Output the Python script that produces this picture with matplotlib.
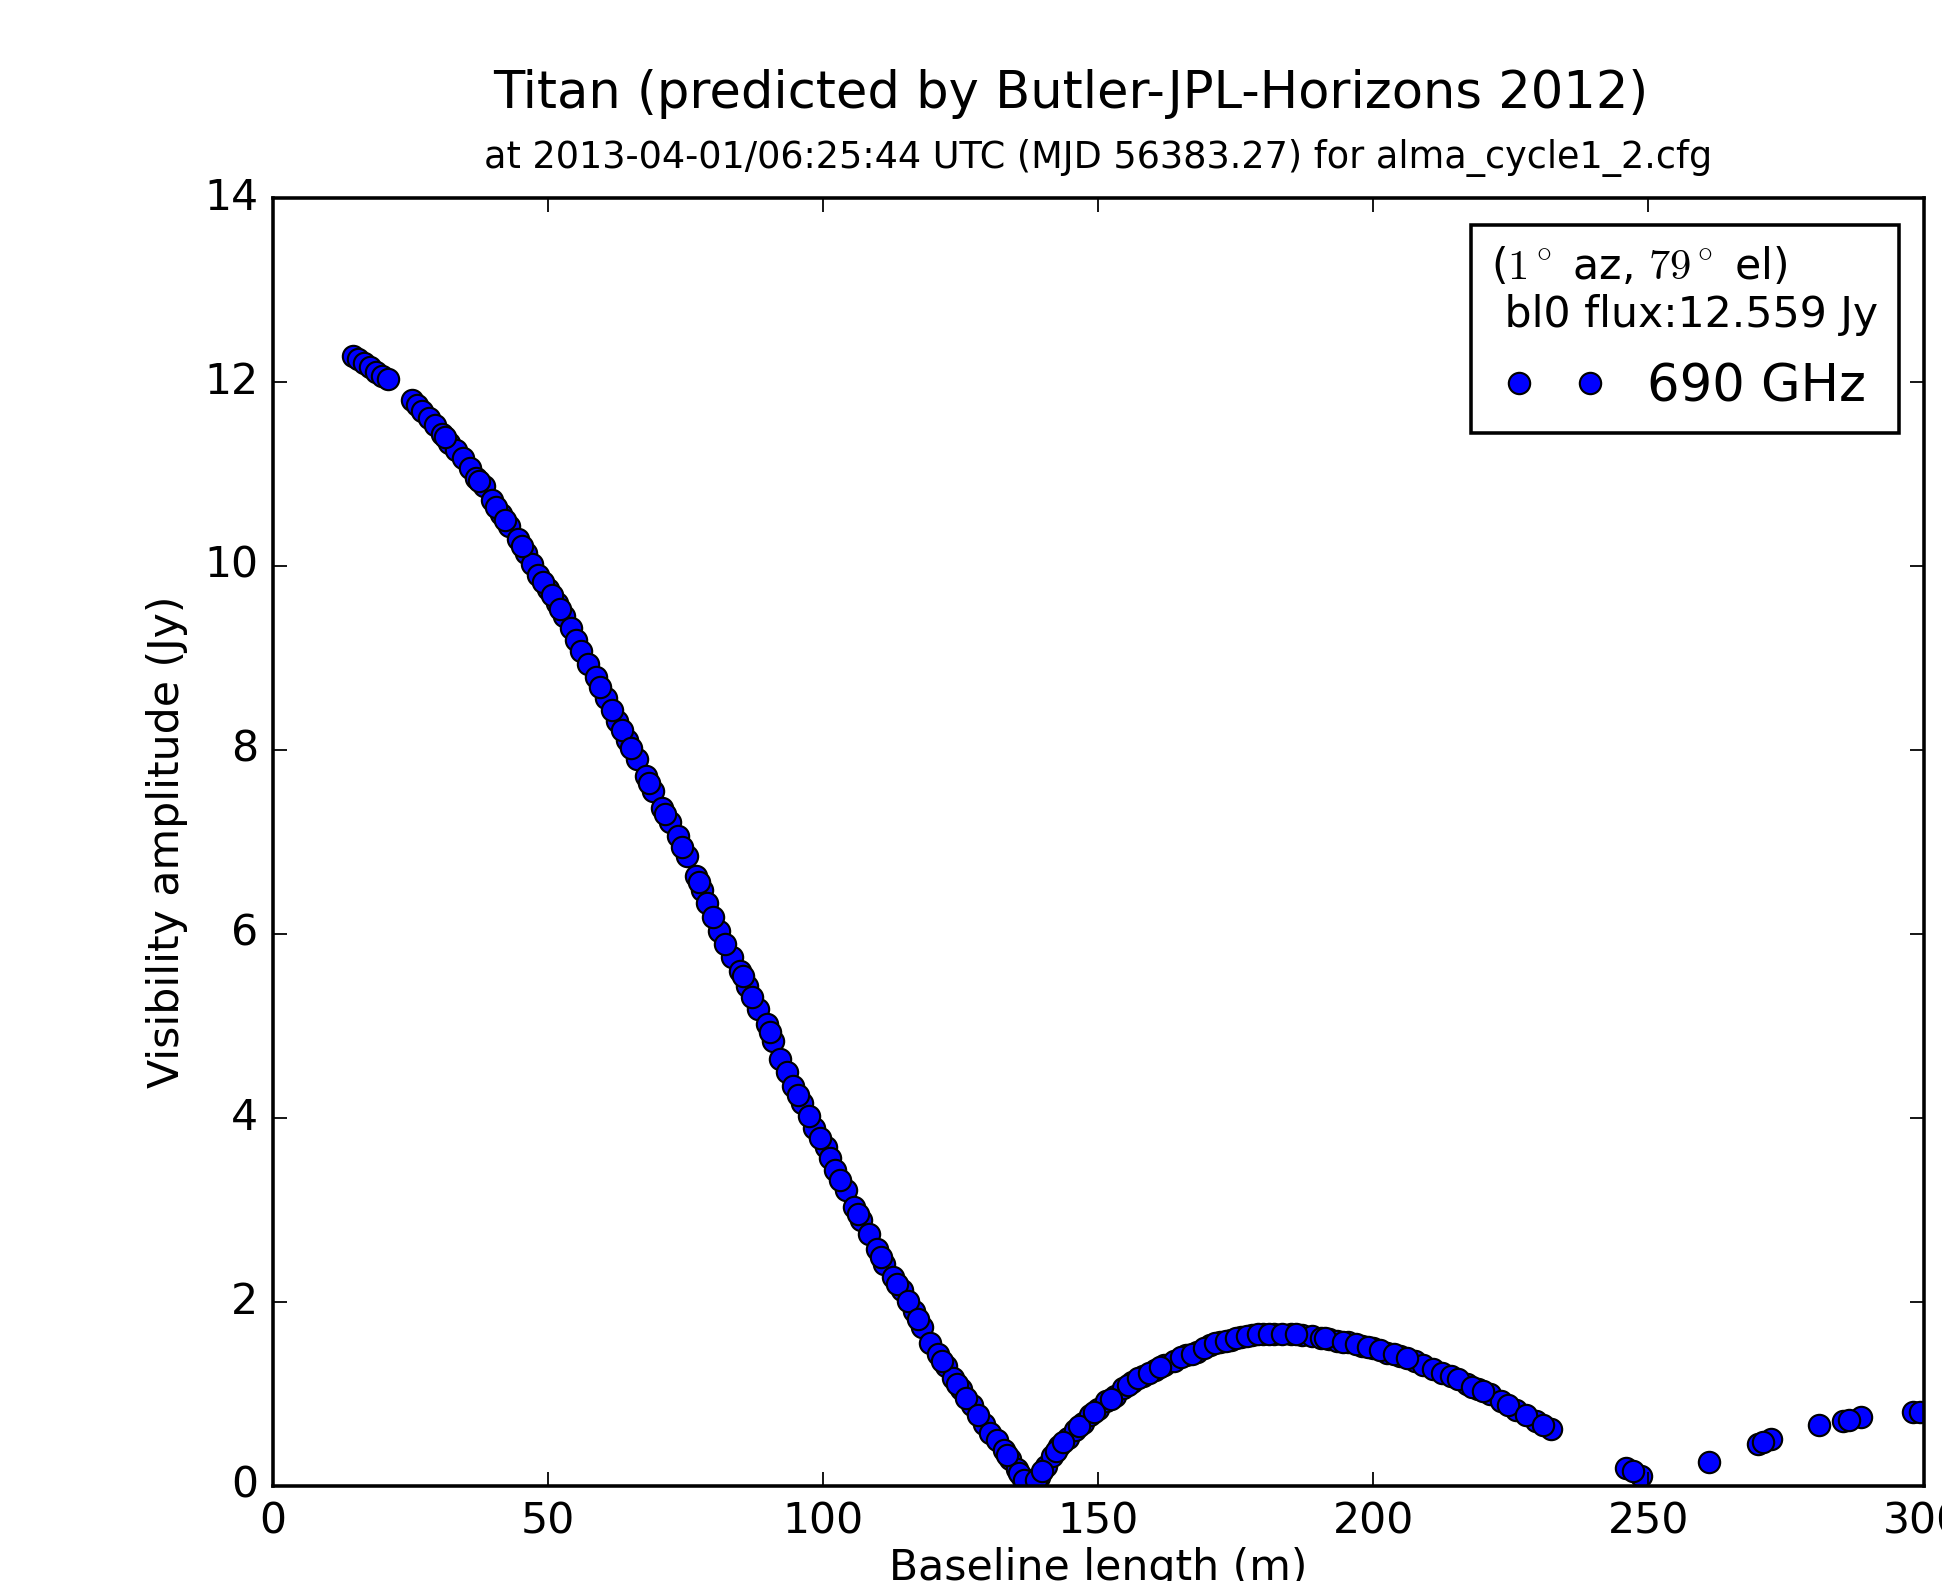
import matplotlib
matplotlib.use('Agg')
import matplotlib.pyplot as plt

plt.style.use('classic')

# baseline length (m) and visibility amplitude (Jy)
# (markers only, so the order of the points does not matter)
baseline = [14.6, 15.5, 16.7, 17.8, 18.8, 19.9, 20.9, 25.3, 26.3, 27.2,
            28.4, 29.5, 30.8, 32.1, 33.4, 34.6, 35.8, 36.9, 38.4, 39.9,
            41.5, 43.0, 44.6, 46.1, 47.2, 48.3, 50.0, 51.7, 53.0, 54.2,
            55.2, 56.1, 57.4, 58.7, 60.6, 62.6, 64.4, 66.2, 67.8, 69.2,
            70.7, 72.2, 73.7, 75.3, 76.9, 78.0, 79.0, 81.1, 83.5, 84.9,
            86.3, 88.2, 89.8, 91.0, 92.2, 93.4, 94.6, 96.3, 98.4, 100.5,
            101.3, 102.2, 104.2, 105.7, 107.0, 108.4, 109.8, 111.2, 112.8, 114.3,
            116.6, 118.0, 119.5, 120.9, 122.3, 123.7, 125.1, 127.1, 129.2, 130.4,
            131.6, 132.9, 134.1, 135.2, 136.1, 137.0, 137.5, 138.2, 139.3, 140.5,
            141.7, 143.0, 144.5, 145.9, 147.2, 148.5, 150.0, 151.5, 153.1, 154.6,
            156.2, 158.2, 160.4, 162.0, 163.9, 166.0, 168.0, 170.4, 172.2, 174.2,
            176.0, 178.0, 180.0, 182.0, 185.0, 187.0, 188.9, 190.5, 192.0, 193.5,
            195.5, 198.0, 200.0, 202.5, 204.9, 207.6, 209.0, 210.8, 212.5, 214.2,
            217.0, 219.0, 221.2, 223.3, 226.0, 229.5, 232.3, 245.9, 248.7, 261.1,
            269.9, 272.3, 281.1, 285.3, 288.7, 298.1, 299.3,
            31.4, 37.6, 40.6, 42.3, 45.3, 49.1, 50.8, 52.3, 59.6, 61.6,
            63.5, 65.2, 68.5, 71.4, 74.5, 77.5, 80.0, 82.2, 85.5, 87.2,
            90.4, 95.4, 97.4, 99.5, 103.2, 106.3, 110.5, 113.5, 115.4, 117.3,
            121.6, 124.4, 126.1, 128.2, 133.5, 135.7, 136.6, 138.8, 139.9, 142.3,
            143.7, 146.6, 149.2, 152.3, 155.4, 157.2, 159.3, 161.2, 165.0, 167.0,
            169.2, 171.3, 173.2, 175.1, 177.0, 179.0, 181.0, 183.5, 186.0, 191.2,
            194.5, 196.8, 199.0, 201.2, 203.7, 206.2, 215.5, 218.0, 220.0, 224.5,
            227.8, 230.9, 247.2, 270.8, 286.5]
amplitude = [12.28, 12.25, 12.21, 12.16, 12.11, 12.07, 12.03, 11.80, 11.75, 11.69,
             11.61, 11.53, 11.44, 11.34, 11.26, 11.17, 11.06, 10.96, 10.87, 10.72,
             10.56, 10.44, 10.29, 10.14, 10.02, 9.90, 9.75, 9.60, 9.46, 9.33,
             9.20, 9.08, 8.94, 8.79, 8.56, 8.32, 8.11, 7.90, 7.72, 7.55,
             7.37, 7.22, 7.06, 6.85, 6.63, 6.48, 6.34, 6.03, 5.75, 5.60,
             5.44, 5.19, 5.02, 4.84, 4.64, 4.50, 4.35, 4.16, 3.89, 3.68,
             3.56, 3.43, 3.22, 3.03, 2.89, 2.74, 2.58, 2.41, 2.27, 2.13,
             1.90, 1.73, 1.55, 1.43, 1.30, 1.17, 1.05, 0.88, 0.67, 0.58,
             0.50, 0.39, 0.29, 0.19, 0.10, 0.05, 0.04, 0.06, 0.10, 0.22,
             0.33, 0.43, 0.52, 0.61, 0.69, 0.77, 0.84, 0.92, 0.98, 1.06,
             1.13, 1.20, 1.26, 1.31, 1.36, 1.42, 1.46, 1.53, 1.56, 1.59,
             1.62, 1.64, 1.65, 1.65, 1.65, 1.64, 1.63, 1.61, 1.60, 1.58,
             1.56, 1.52, 1.50, 1.45, 1.41, 1.36, 1.31, 1.27, 1.23, 1.20,
             1.11, 1.05, 1.00, 0.92, 0.83, 0.71, 0.62, 0.20, 0.11, 0.26,
             0.46, 0.51, 0.66, 0.71, 0.75, 0.80, 0.80,
             11.40, 10.92, 10.64, 10.50, 10.22, 9.83, 9.68, 9.53, 8.68, 8.44,
             8.22, 8.02, 7.64, 7.30, 6.95, 6.56, 6.19, 5.89, 5.54, 5.32,
             4.93, 4.25, 4.02, 3.78, 3.33, 2.96, 2.49, 2.20, 2.01, 1.81,
             1.36, 1.11, 0.96, 0.77, 0.34, 0.14, 0.07, 0.07, 0.16, 0.38,
             0.48, 0.65, 0.80, 0.95, 1.10, 1.17, 1.23, 1.29, 1.40, 1.44,
             1.50, 1.55, 1.58, 1.61, 1.63, 1.65, 1.65, 1.65, 1.65, 1.61,
             1.57, 1.54, 1.51, 1.48, 1.43, 1.39, 1.16, 1.08, 1.03, 0.88,
             0.77, 0.66, 0.16, 0.48, 0.72]

title_main = 'Titan (predicted by Butler-JPL-Horizons 2012)'
title_sub = 'at 2013-04-01/06:25:44 UTC (MJD 56383.27) for alma_cycle1_2.cfg'
legend_title = '($1^\\circ$ az, $79^\\circ$ el)\n bl0 flux:12.559 Jy'
series_label = '690 GHz'

W, H, DPI = 1942, 1581, 256
fig = plt.figure(figsize=(W / DPI, H / DPI), dpi=DPI, facecolor='white')
ax = fig.add_axes([272.5 / W, 95 / H, 1651 / W, 1288 / H])

ax.plot(baseline, amplitude, 'o', color='b', mec='k', mew=0.6, ms=6,
        label=series_label)
ax.set_xlim(0, 300)
ax.set_ylim(0, 14)
ax.tick_params(labelsize=12)

ax.set_xlabel('Baseline length (m)', fontsize=12)
ax.set_ylabel('Visibility amplitude (Jy)', fontsize=12)
ax.xaxis.set_label_coords(0.5, -0.047)
ax.yaxis.set_label_coords(-0.051, 0.5)

fig.text(1071 / W, 1 - 108 / H, title_main, ha='center', va='baseline',
         fontsize=14.4)
fig.text(1098 / W, 1 - 168 / H, title_sub, ha='center', va='baseline',
         fontsize=10.3)

ax.legend(loc='upper right', bbox_to_anchor=(1898.6 / W, 1 - 225.4 / H),
          bbox_transform=fig.transFigure, borderaxespad=0, numpoints=2,
          fontsize=14.4, title=legend_title, title_fontsize=12,
          fancybox=False)

fig.savefig('out.png', dpi=DPI, facecolor='white')
